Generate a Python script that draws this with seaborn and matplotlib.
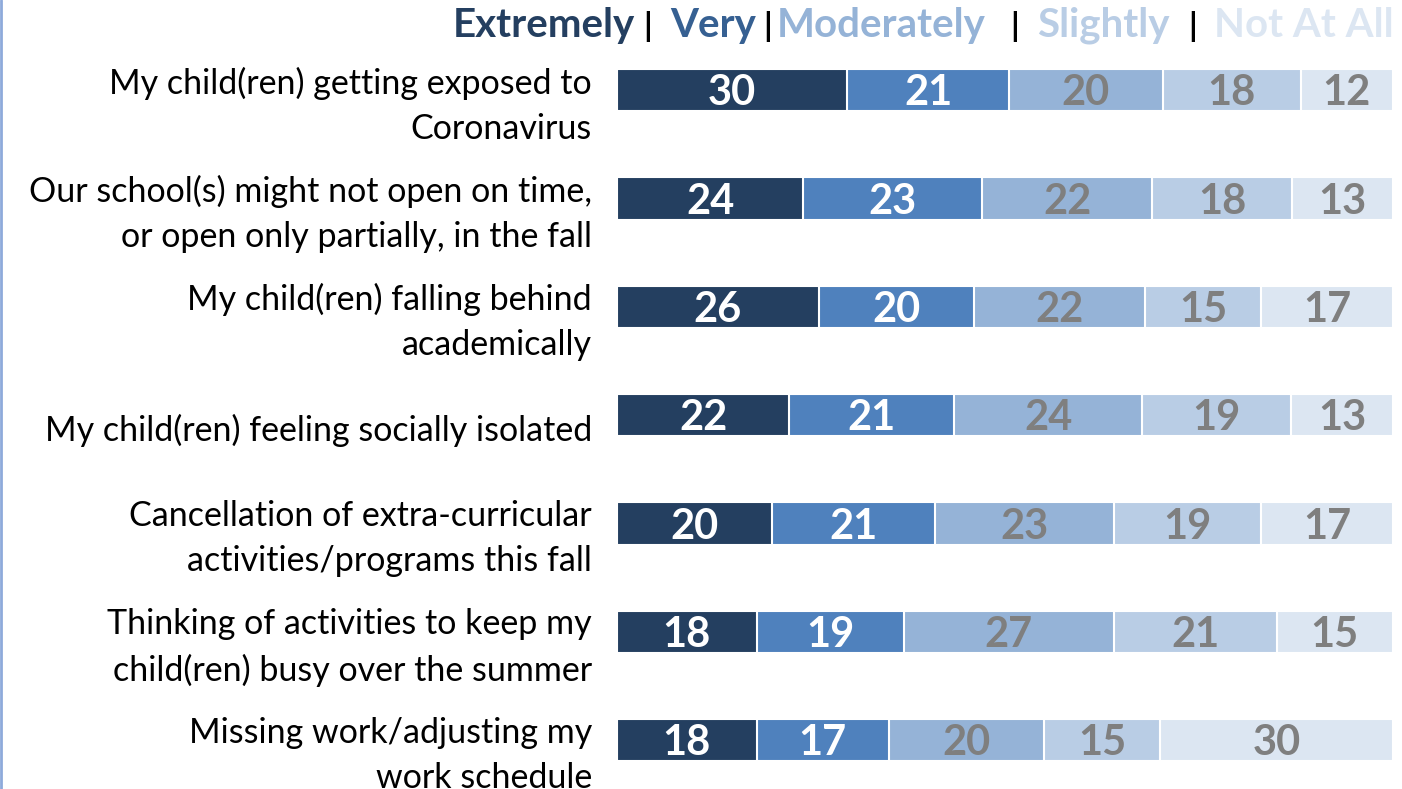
import numpy as np
import pandas as pd
import matplotlib.pyplot as plt
import matplotlib.transforms as mtransforms
from matplotlib.lines import Line2D
import seaborn as sns

# ---- data ----
items = [
    "My child(ren) getting exposed to\nCoronavirus",
    "Our school(s) might not open on time,\nor open only partially, in the fall",
    "My child(ren) falling behind\nacademically",
    "My child(ren) feeling socially isolated",
    "Cancellation of extra-curricular\nactivities/programs this fall",
    "Thinking of activities to keep my\nchild(ren) busy over the summer",
    "Missing work/adjusting my\nwork schedule",
]
levels = ["Extremely", "Very", "Moderately", "Slightly", "Not At All"]
extremely = [30, 24, 26, 22, 20, 18, 18]
very = [21, 23, 20, 21, 21, 19, 17]
moderately = [20, 22, 22, 24, 23, 27, 20]
slightly = [18, 18, 15, 19, 19, 21, 15]
not_at_all = [12, 13, 17, 13, 17, 15, 30]

bar_colors = ["#243F60", "#4F81BD", "#95B3D7", "#B9CDE5", "#DCE6F2"]
legend_colors = ["#243F60", "#366092", "#95B3D7", "#B9CDE5", "#DCE6F2"]
num_colors = ["white", "white", "#7F7F7F", "#7F7F7F", "#7F7F7F"]

df = pd.DataFrame({"item": items, "Extremely": extremely, "Very": very,
                   "Moderately": moderately, "Slightly": slightly,
                   "Not At All": not_at_all})
vals = df[levels].to_numpy(dtype=float)
pct = vals / vals.sum(axis=1, keepdims=True) * 100
cum = np.cumsum(pct, axis=1)
for i, lv in enumerate(levels):
    df["cum_" + lv] = cum[:, i]

# ---- plot ----
sns.set_style("white")
plt.rcParams["font.family"] = ["Lato", "DejaVu Sans"]

fig = plt.figure(figsize=(14.02, 7.89), dpi=100)
ax = fig.add_axes([617 / 1402, 0.0, (1393 - 617) / 1402, 1 - 36 / 789])

# draw cumulative bars from the widest down so each segment shows
for i in reversed(range(len(levels))):
    sns.barplot(data=df, y="item", x="cum_" + levels[i], order=items,
                orient="h", color=bar_colors[i], width=0.39,
                edgecolor="white", linewidth=1.5, saturation=1, ax=ax)

# segment labels
for r in range(len(items)):
    start = 0
    for i in range(len(levels)):
        mid = start + pct[r, i] / 2
        ax.text(mid, r + 0.03, f"{int(vals[r, i])}", ha="center", va="center",
                fontsize=30, fontweight="bold", color=num_colors[i])
        start = cum[r, i]

ax.set_xlim(0, 100)
ax.set_ylim(6 + 49 / 108.3, -0.5)
ax.set_xlabel("")
ax.set_ylabel("")
ax.set_xticks([])
sns.despine(ax=ax, left=True, bottom=True)
ax.tick_params(axis="y", length=0, pad=18)
ax.set_yticklabels(items, fontsize=24.5, color="black", linespacing=1.5)
for lab in ax.get_yticklabels():
    dy = -6 if "\n" in lab.get_text() else -12
    offset = mtransforms.ScaledTranslation(0, dy / 100, fig.dpi_scale_trans)
    lab.set_transform(lab.get_transform() + offset)

# legend row at top
ybase = 1 - 37 / 789
legend_pos = [544, 713, 881, 1103, 1304]
sep_pos = [648, 768, 1015, 1193]
for lv, xc, col in zip(levels, legend_pos, legend_colors):
    fig.text(xc / 1402, ybase, lv, ha="center", va="baseline",
             fontsize=29, fontweight="bold", color=col)
for xs in sep_pos:
    fig.text(xs / 1402, ybase, "|", ha="center", va="baseline",
             fontsize=24, fontweight="bold", color="black")

# thin frame line at the left edge
fig.add_artist(Line2D([0.001, 0.001], [0, 1], transform=fig.transFigure,
                      color="#8EAADB", linewidth=2))

fig.savefig("out.png", dpi=100)
